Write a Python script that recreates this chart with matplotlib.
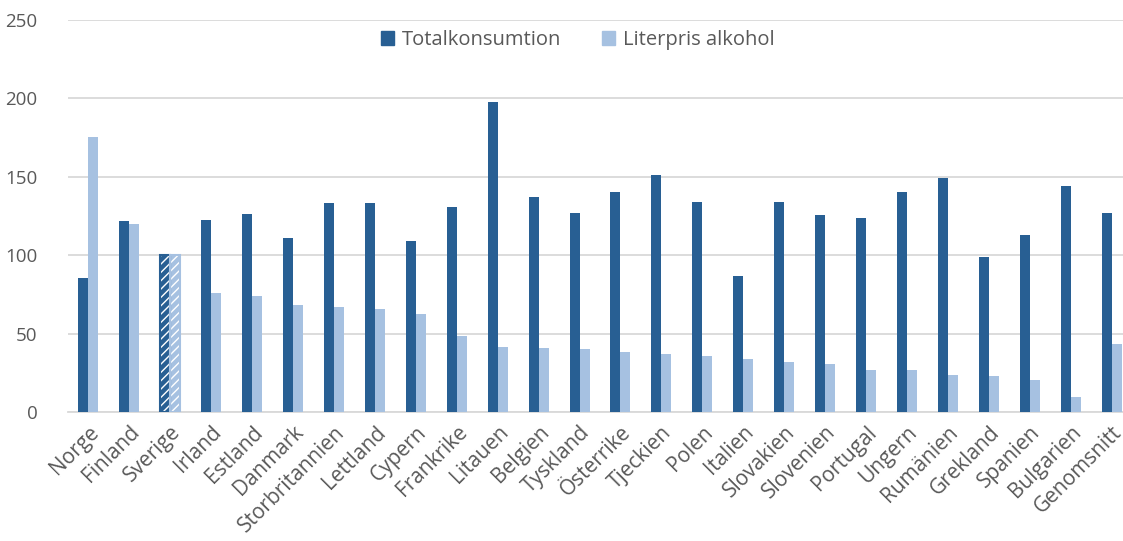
import matplotlib.pyplot as plt
import numpy as np
from matplotlib.patches import Patch

countries = ['Norge', 'Finland', 'Sverige', 'Irland', 'Estland', 'Danmark',
             'Storbritannien', 'Lettland', 'Cypern', 'Frankrike', 'Litauen',
             'Belgien', 'Tyskland', 'Österrike', 'Tjeckien', 'Polen', 'Italien',
             'Slovakien', 'Slovenien', 'Portugal', 'Ungern', 'Rumänien',
             'Grekland', 'Spanien', 'Bulgarien', 'Genomsnitt']

totalkonsumtion = [85.5, 122, 100, 122.5, 126, 111, 133, 133, 109, 130.5,
                   198, 137, 127, 140, 151, 134, 87, 134, 125.5, 123.5,
                   140, 149, 99, 113, 144, 127]
literpris = [175.5, 120, 100, 76, 74, 68, 67, 66, 62.5, 48.5,
             41.5, 41, 40, 38, 37, 35.7, 33.8, 31.9, 30.6, 27,
             26.8, 23.6, 23, 20.5, 9.6, 43.5]

dark = '#285F93'
light = '#A6C1E1'
grey = '#595959'

plt.rcParams['font.family'] = ['Open Sans', 'DejaVu Sans']

fig = plt.figure(figsize=(11.23, 5.41), dpi=100)
ax = fig.add_axes([68 / 1123, 129 / 541, 1055 / 1123, 392 / 541])

x = np.arange(len(countries))
w = 0.245

b1 = ax.bar(x - w / 2, totalkonsumtion, w, color=dark, zorder=3)
b2 = ax.bar(x + w / 2, literpris, w, color=light, zorder=3)

# Sverige is drawn hatched (reference country)
sv = countries.index('Sverige')
for bars, col in ((b1, dark), (b2, light)):
    bar = bars[sv]
    bar.set_hatch('////')
    bar.set_edgecolor('white')
    bar.set_linewidth(0)
    ax.bar(bar.get_x() + bar.get_width() / 2, bar.get_height(), bar.get_width(),
           facecolor='none', edgecolor=col, linewidth=1.5, zorder=4)

ax.set_ylim(0, 250)
ax.set_xlim(-0.5, 25.28)
ax.set_yticks(range(0, 251, 50))
ax.yaxis.grid(True, color='#D9D9D9', linewidth=1.3, zorder=0)
for s in ['top', 'right', 'left']:
    ax.spines[s].set_visible(False)
ax.spines['bottom'].set_color('#D9D9D9')
ax.spines['bottom'].set_linewidth(1.3)
ax.tick_params(axis='both', length=0, labelsize=13.5, colors=grey)
ax.tick_params(axis='y', pad=22)
ax.set_xticks(x)
ax.set_xticklabels(countries, rotation=45, ha='right', rotation_mode='anchor',
                   fontsize=15)
ax.tick_params(axis='x', pad=7)

handles = [Patch(color=dark), Patch(color=light)]
leg = ax.legend(handles, ['Totalkonsumtion', 'Literpris alkohol'],
                loc='upper center', bbox_to_anchor=(0.483, 1.02), ncol=2,
                frameon=False, fontsize=14.5, handlelength=0.65, handleheight=0.65,
                columnspacing=2.0, handletextpad=0.4)
for t in leg.get_texts():
    t.set_color(grey)

fig.savefig('out.png', dpi=100)
